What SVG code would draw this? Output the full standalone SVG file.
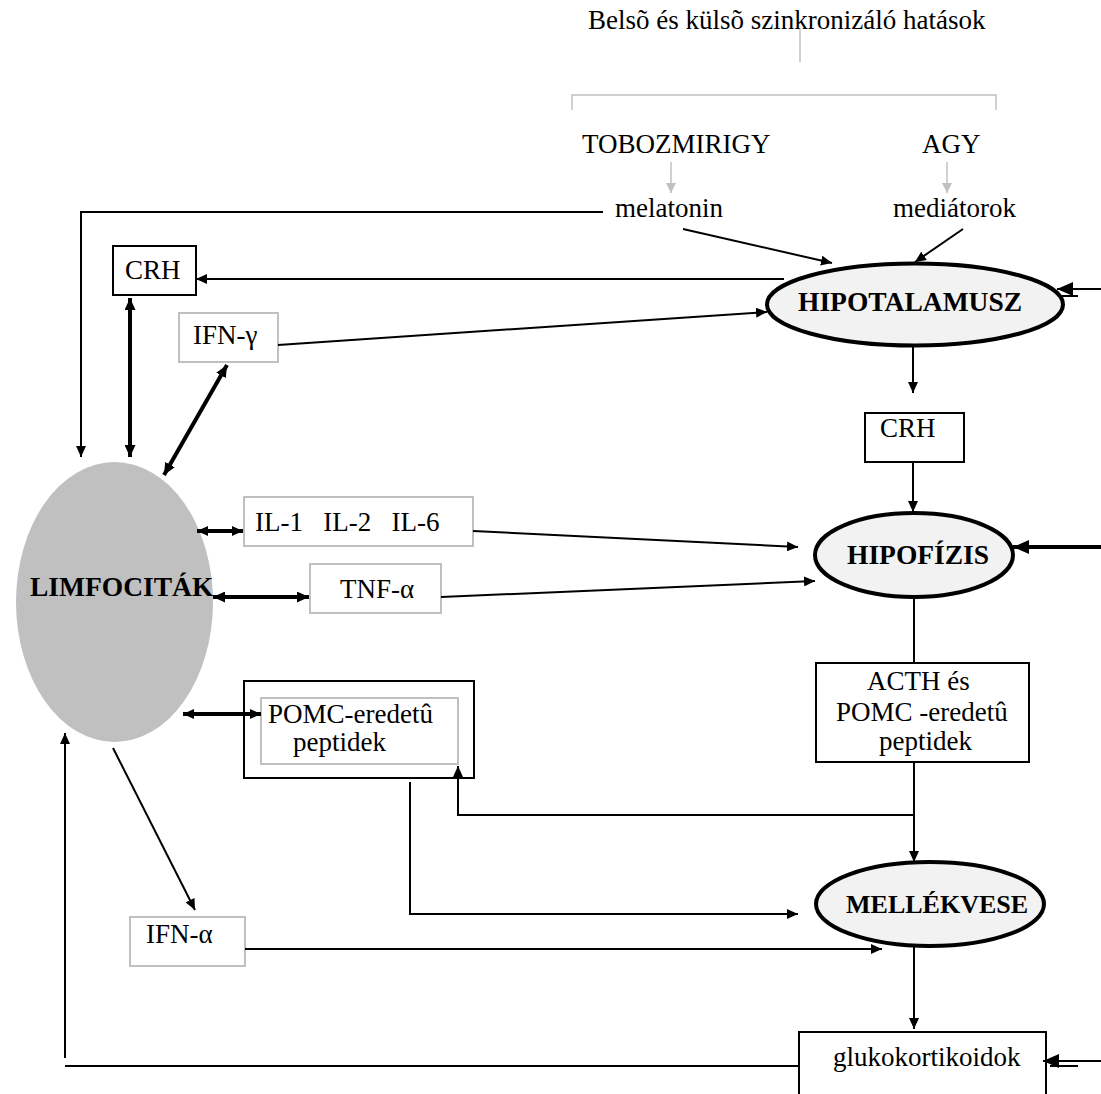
<svg xmlns="http://www.w3.org/2000/svg" width="1101" height="1094" viewBox="0 0 1101 1094">
  <style>
    text { font-family: "Liberation Serif", "Times New Roman", serif; font-size: 27px; fill: #000; }
    .b { font-weight: bold; font-size: 27.5px; }
    .box { fill: #fff; stroke: #000; stroke-width: 2; }
    .gbox { fill: #fff; stroke: #c0c0c0; stroke-width: 2; }
    .organ { fill: #f2f2f2; stroke: #000; stroke-width: 4; }
    .ln { fill: none; stroke: #000; stroke-width: 2; }
    .thick { fill: none; stroke: #000; stroke-width: 4; }
    .gl { fill: none; stroke: #c0c0c0; stroke-width: 1.5; }
  </style>
  <defs>
    <marker id="a" markerUnits="userSpaceOnUse" markerWidth="11" markerHeight="10" refX="11" refY="5" orient="auto-start-reverse">
      <path d="M0,0 L11,5 L0,10 z" fill="#000"/>
    </marker>
    <marker id="t" markerUnits="userSpaceOnUse" markerWidth="12" markerHeight="11" refX="12" refY="5.5" orient="auto-start-reverse">
      <path d="M0,0 L12,5.5 L0,11 z" fill="#000"/>
    </marker>
    <marker id="big" markerUnits="userSpaceOnUse" markerWidth="16" markerHeight="14" refX="16" refY="7" orient="auto">
      <path d="M0,0 L16,7 L0,14 z" fill="#000"/>
    </marker>
    <marker id="g" markerUnits="userSpaceOnUse" markerWidth="10" markerHeight="10" refX="10" refY="5" orient="auto">
      <path d="M0,0 L10,5 L0,10 z" fill="#c0c0c0"/>
    </marker>
  </defs>

  <!-- synchronising influences header -->
  <g id="header">
    <text x="588" y="29">Belsõ és külsõ szinkronizáló hatások</text>
    <path class="gl" d="M800,29 V62 M572,110 V95 H996 V110"/>
  </g>
  <g id="tobozmirigy"><text x="582" y="153">TOBOZMIRIGY</text></g>
  <g id="agy"><text x="922" y="153">AGY</text></g>
  <g id="melatonin"><text x="615" y="217">melatonin</text></g>
  <g id="mediatorok"><text x="893" y="217">mediátorok</text></g>

  <!-- organs -->
  <g id="hipotalamusz">
    <ellipse class="organ" cx="915" cy="304.5" rx="148" ry="41"/>
    <text class="b" x="798" y="311">HIPOTALAMUSZ</text>
  </g>
  <g id="crh-right">
    <rect class="box" x="865" y="413" width="99" height="49"/>
    <text x="880" y="437">CRH</text>
  </g>
  <g id="hipofizis">
    <ellipse class="organ" cx="914" cy="555" rx="99" ry="42"/>
    <text class="b" x="847" y="564">HIPOFÍZIS</text>
  </g>
  <g id="acth">
    <rect class="box" x="816" y="663" width="213" height="99"/>
    <text x="867" y="690">ACTH és</text>
    <text x="836" y="721">POMC -eredetû</text>
    <text x="879" y="750">peptidek</text>
  </g>
  <g id="mellekvese">
    <ellipse class="organ" cx="930" cy="904" rx="114" ry="42"/>
    <text class="b" x="846" y="913" style="font-size:26px">MELLÉKVESE</text>
  </g>
  <g id="glukokortikoidok">
    <rect class="box" x="799" y="1032" width="247" height="80"/>
    <text x="833" y="1066">glukokortikoidok</text>
  </g>

  <!-- immune side -->
  <g id="limfocitak">
    <ellipse cx="114.5" cy="602" rx="98.5" ry="140" fill="#c0c0c0"/>
    <text class="b" x="30" y="596">LIMFOCITÁK</text>
  </g>
  <g id="crh-left">
    <rect class="box" x="113" y="246" width="83" height="49"/>
    <text x="125" y="279">CRH</text>
  </g>
  <g id="ifn-gamma">
    <rect class="gbox" x="179" y="313" width="99" height="49"/>
    <text x="193" y="344">IFN-γ</text>
  </g>
  <g id="interleukinok">
    <rect class="gbox" x="244" y="497" width="229" height="49"/>
    <text x="255" y="531" xml:space="preserve">IL-1   IL-2   IL-6</text>
  </g>
  <g id="tnf-alfa">
    <rect class="gbox" x="310" y="564" width="131" height="49"/>
    <text x="340" y="598">TNF-α</text>
  </g>
  <g id="pomc">
    <rect class="box" x="244" y="681" width="230" height="97"/>
    <rect class="gbox" x="261" y="698" width="197" height="66"/>
    <text x="268" y="723">POMC-eredetû</text>
    <text x="293" y="751">peptidek</text>
  </g>
  <g id="ifn-alfa">
    <rect class="gbox" x="130" y="917" width="115" height="49"/>
    <text x="146" y="943">IFN-α</text>
  </g>

  <g id="connectors">
    <!-- grey inputs -->
    <line class="gl" x1="671" y1="162" x2="671" y2="193" marker-end="url(#g)"/>
    <line class="gl" x1="947" y1="162" x2="947" y2="193" marker-end="url(#g)"/>
    <!-- melatonin to lymphocytes -->
    <path class="ln" d="M603,212 H81 V457" marker-end="url(#a)"/>
    <!-- into hypothalamus -->
    <line class="ln" x1="683" y1="229" x2="832" y2="263" marker-end="url(#a)"/>
    <line class="ln" x1="963" y1="229" x2="915" y2="262" marker-end="url(#a)"/>
    <line class="ln" x1="784" y1="279" x2="196" y2="279" marker-end="url(#a)"/>
    <line class="ln" x1="278" y1="345" x2="767" y2="312" marker-end="url(#a)"/>
    <line class="ln" x1="1101" y1="289" x2="1057" y2="289" marker-end="url(#big)"/>
    <line class="ln" x1="1078" y1="296" x2="1062" y2="296"/>
    <!-- axis -->
    <line class="ln" x1="913" y1="346" x2="913" y2="393" marker-end="url(#a)"/>
    <line class="ln" x1="913" y1="462" x2="913" y2="512" marker-end="url(#a)"/>
    <line class="ln" x1="914" y1="597" x2="914" y2="663"/>
    <line class="ln" x1="914" y1="762" x2="914" y2="862" marker-end="url(#a)"/>
    <line class="ln" x1="914" y1="947" x2="914" y2="1029" marker-end="url(#a)"/>
    <line class="thick" x1="1101" y1="547" x2="1013" y2="547" marker-end="url(#big)"/>
    <line class="ln" x1="1101" y1="1061" x2="1043" y2="1061" marker-end="url(#big)"/>
    <line class="ln" x1="1078" y1="1066" x2="1050" y2="1066"/>
    <!-- lymphocyte exchanges -->
    <line class="thick" x1="130" y1="298" x2="130" y2="457" marker-start="url(#t)" marker-end="url(#t)"/>
    <line class="thick" x1="227" y1="365" x2="164" y2="475" marker-start="url(#t)" marker-end="url(#t)"/>
    <line class="thick" x1="197" y1="531" x2="243" y2="531" marker-start="url(#a)" marker-end="url(#a)"/>
    <line class="thick" x1="213" y1="597" x2="309" y2="597" marker-start="url(#t)" marker-end="url(#t)"/>
    <line class="thick" x1="183" y1="714" x2="261" y2="714" marker-start="url(#a)" marker-end="url(#a)"/>
    <line class="ln" x1="473" y1="531" x2="798" y2="547" marker-end="url(#a)"/>
    <line class="ln" x1="441" y1="597" x2="815" y2="581" marker-end="url(#a)"/>
    <!-- POMC feedback -->
    <path class="ln" d="M914,815 H458 V766" marker-end="url(#a)"/>
    <path class="ln" d="M410,782 V914 H798" marker-end="url(#a)"/>
    <line class="ln" x1="113" y1="748" x2="195" y2="910" marker-end="url(#a)"/>
    <line class="ln" x1="245" y1="949" x2="882" y2="949" marker-end="url(#a)"/>
    <!-- glucocorticoid return -->
    <path class="ln" d="M799,1066 H65"/>
    <line class="ln" x1="65" y1="1058" x2="65" y2="733" marker-end="url(#a)"/>
  </g>
</svg>
